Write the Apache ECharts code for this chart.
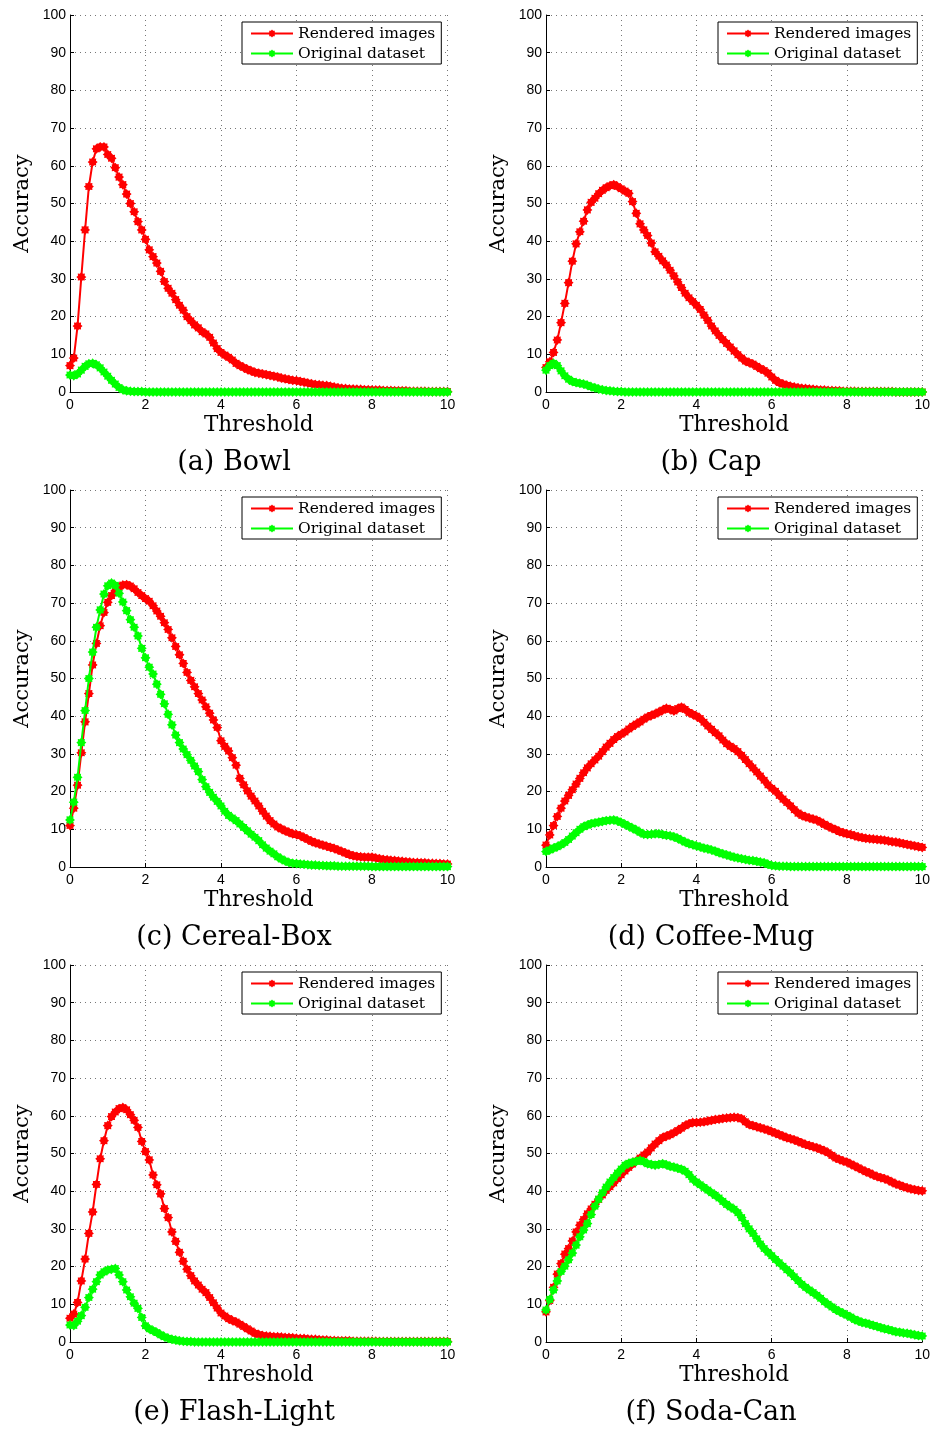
<!DOCTYPE html>
<html>
<head>
<meta charset="utf-8">
<script src="https://cdn.jsdelivr.net/npm/echarts@6/dist/echarts.min.js"></script>
<style>
  html, body { margin: 0; padding: 0; background: #fff; }
  #chart { width: 933px; height: 1433px; }
</style>
</head>
<body>
<div id="chart"></div>
<script>
// Threshold values (x axis), sampled every 0.1
const thresholds = [
  0, 0.1, 0.2, 0.3, 0.4, 0.5, 0.6, 0.7, 0.8, 0.9,
  1, 1.1, 1.2, 1.3, 1.4, 1.5, 1.6, 1.7, 1.8, 1.9,
  2, 2.1, 2.2, 2.3, 2.4, 2.5, 2.6, 2.7, 2.8, 2.9,
  3, 3.1, 3.2, 3.3, 3.4, 3.5, 3.6, 3.7, 3.8, 3.9,
  4, 4.1, 4.2, 4.3, 4.4, 4.5, 4.6, 4.7, 4.8, 4.9,
  5, 5.1, 5.2, 5.3, 5.4, 5.5, 5.6, 5.7, 5.8, 5.9,
  6, 6.1, 6.2, 6.3, 6.4, 6.5, 6.6, 6.7, 6.8, 6.9,
  7, 7.1, 7.2, 7.3, 7.4, 7.5, 7.6, 7.7, 7.8, 7.9,
  8, 8.1, 8.2, 8.3, 8.4, 8.5, 8.6, 8.7, 8.8, 8.9,
  9, 9.1, 9.2, 9.3, 9.4, 9.5, 9.6, 9.7, 9.8, 9.9,
  10
];

const seriesNames = ['Rendered images', 'Original dataset'];
const captions = ['(a) Bowl', '(b) Cap', '(c) Cereal-Box', '(d) Coffee-Mug', '(e) Flash-Light', '(f) Soda-Can'];
const xTicks = [0, 2, 4, 6, 8, 10];
const yTicks = [0, 10, 20, 30, 40, 50, 60, 70, 80, 90, 100];

// Accuracy (%) per threshold
const bowlRendered = [
  7, 9, 17.5, 30.5, 43, 54.5, 61, 64.5, 65, 65,
  63, 62, 59.5, 57, 55, 52.5, 50, 47.8, 45.2, 43,
  40.5, 37.7, 35.9, 34.2, 32, 29.3, 27.5, 26.2, 24.5, 23,
  21.7, 20, 18.9, 17.8, 17, 16, 15.4, 14.5, 13, 11.5,
  10.5, 9.8, 9.2, 8.5, 7.6, 7, 6.5, 6, 5.6, 5.2,
  5, 4.8, 4.6, 4.4, 4.2, 4, 3.7, 3.5, 3.3, 3.1,
  3, 2.8, 2.6, 2.4, 2.2, 2, 1.9, 1.8, 1.7, 1.5,
  1.3, 1.1, 1, 0.9, 0.8, 0.8, 0.7, 0.7, 0.6, 0.6,
  0.5, 0.5, 0.5, 0.4, 0.4, 0.4, 0.3, 0.3, 0.3, 0.3,
  0.2, 0.2, 0.2, 0.2, 0.2, 0.1, 0.1, 0.1, 0.1, 0.1,
  0.1
];
const bowlOriginal = [
  4.5, 4.3, 4.8, 5.8, 6.8, 7.5, 7.6, 7.2, 6.4, 5.3,
  4.2, 3.1, 2.1, 1.2, 0.6, 0.3, 0.2, 0.1, 0.1, 0.1,
  0, 0, 0, 0, 0, 0, 0, 0, 0, 0,
  0, 0, 0, 0, 0, 0, 0, 0, 0, 0,
  0, 0, 0, 0, 0, 0, 0, 0, 0, 0,
  0, 0, 0, 0, 0, 0, 0, 0, 0, 0,
  0, 0, 0, 0, 0, 0, 0, 0, 0, 0,
  0, 0, 0, 0, 0, 0, 0, 0, 0, 0,
  0, 0, 0, 0, 0, 0, 0, 0, 0, 0,
  0, 0, 0, 0, 0, 0, 0, 0, 0, 0,
  0
];

const capRendered = [
  6.5, 8, 10.5, 13.8, 18.4, 23.5, 29, 34.7, 39.3, 42.5,
  45.3, 48.3, 50.3, 51.4, 52.6, 53.5, 54.2, 54.7, 55, 54.5,
  53.9, 53.3, 52.7, 50.5, 47.4, 44.6, 43, 41.5, 39.5, 37.2,
  36, 34.8, 33.7, 32.3, 30.8, 29.2, 27.7, 26.2, 25, 24,
  23, 21.9, 20.4, 19, 17.5, 16.2, 15, 13.9, 12.9, 11.9,
  10.9, 9.9, 9, 8.2, 7.8, 7.4, 6.8, 6.2, 5.7, 5,
  4, 3.1, 2.5, 2.1, 1.8, 1.5, 1.3, 1.1, 1, 0.9,
  0.8, 0.7, 0.6, 0.5, 0.5, 0.4, 0.4, 0.3, 0.3, 0.2,
  0.2, 0.2, 0.2, 0.1, 0.1, 0.1, 0.1, 0.1, 0.1, 0.1,
  0.1, 0.1, 0.1, 0, 0, 0, 0, 0, 0, 0,
  0
];
const capOriginal = [
  5.8, 7, 7.6, 7, 5.6, 4.3, 3.4, 2.8, 2.5, 2.3,
  2.1, 1.8, 1.4, 1.1, 0.8, 0.6, 0.4, 0.3, 0.2, 0.1,
  0.1, 0, 0, 0, 0, 0, 0, 0, 0, 0,
  0, 0, 0, 0, 0, 0, 0, 0, 0, 0,
  0, 0, 0, 0, 0, 0, 0, 0, 0, 0,
  0, 0, 0, 0, 0, 0, 0, 0, 0, 0,
  0, 0, 0, 0, 0, 0, 0, 0, 0, 0,
  0, 0, 0, 0, 0, 0, 0, 0, 0, 0,
  0, 0, 0, 0, 0, 0, 0, 0, 0, 0,
  0, 0, 0, 0, 0, 0, 0, 0, 0, 0,
  0
];

const cerealRendered = [
  11, 15.6, 21.7, 30.3, 38.5, 46, 53.6, 59.3, 64, 67.5,
  70.2, 72, 73.3, 74.3, 74.8, 74.9, 74.5, 73.8, 72.8, 72,
  71.2, 70.5, 69.3, 67.9, 66.5, 64.8, 63, 60.8, 58.5, 56.3,
  54, 51.6, 49.5, 47.8, 46, 44.3, 42.5, 40.8, 39, 37,
  33.5, 32, 30.8, 29, 27, 23.5, 21.8, 20.2, 18.8, 17.5,
  16.2, 14.8, 13.5, 12.3, 11.4, 10.6, 10.1, 9.6, 9.2, 8.8,
  8.6, 8.3, 7.8, 7.3, 6.8, 6.4, 6.1, 5.8, 5.5, 5.2,
  4.9, 4.5, 4.1, 3.7, 3.3, 3, 2.8, 2.7, 2.6, 2.6,
  2.6, 2.4, 2.2, 2, 1.9, 1.8, 1.7, 1.6, 1.5, 1.4,
  1.3, 1.2, 1.2, 1.1, 1.1, 1, 1, 0.9, 0.9, 0.8,
  0.8
];
const cerealOriginal = [
  12.5, 17.2, 23.8, 33, 41.5, 50, 57, 63.6, 68.2, 72.4,
  74.6, 75.3, 74.7, 72.6, 70.3, 68, 65.6, 63.6, 61.3, 58,
  55.5, 53, 51.2, 48.5, 45.8, 43.3, 40.5, 37.7, 35, 33,
  31.3, 29.8, 28.3, 26.8, 25.3, 23.2, 21.3, 19.8, 18.5, 17.4,
  16.2, 14.8, 13.7, 13, 12.3, 11.4, 10.5, 9.6, 8.7, 7.9,
  7, 5.9, 5, 4.2, 3.5, 2.7, 2.1, 1.6, 1.2, 1,
  0.9, 0.8, 0.7, 0.6, 0.5, 0.5, 0.4, 0.4, 0.3, 0.3,
  0.3, 0.2, 0.2, 0.2, 0.2, 0.2, 0.2, 0.2, 0.2, 0.2,
  0.1, 0.1, 0.1, 0.1, 0.1, 0.1, 0.1, 0.1, 0.1, 0.1,
  0.1, 0.1, 0.1, 0.1, 0.1, 0.1, 0.1, 0.1, 0.1, 0.1,
  0.1
];

const mugRendered = [
  5.8, 8.5, 11, 13.4, 15.6, 17.5, 19, 20.5, 22, 23.5,
  25, 26.3, 27.4, 28.4, 29.4, 30.6, 31.8, 32.8, 33.8, 34.6,
  35.2, 35.8, 36.6, 37.3, 37.9, 38.5, 39.2, 39.8, 40.2, 40.6,
  41.1, 41.6, 42.1, 41.8, 41.4, 42, 42.4, 41.8, 41, 40.5,
  40, 39.4, 38.4, 37.4, 36.5, 35.6, 34.8, 33.7, 32.7, 32,
  31.4, 30.6, 29.6, 28.5, 27.4, 26.3, 25.2, 24.1, 23, 21.8,
  20.9, 20.1, 19, 18, 17.1, 16.2, 15.2, 14.3, 13.7, 13.3,
  13, 12.7, 12.4, 11.9, 11.3, 10.8, 10.3, 9.9, 9.4, 9.1,
  8.8, 8.6, 8.3, 8, 7.8, 7.6, 7.5, 7.4, 7.3, 7.2,
  7.1, 6.9, 6.7, 6.6, 6.4, 6.2, 6, 5.8, 5.6, 5.4,
  5.2
];
const mugOriginal = [
  4.1, 4.5, 5, 5.4, 5.9, 6.5, 7.3, 8.2, 9.1, 10,
  10.7, 11.1, 11.5, 11.7, 11.9, 12.1, 12.3, 12.4, 12.5, 12.2,
  11.8, 11.3, 10.8, 10.3, 9.8, 9.2, 8.7, 8.6, 8.7, 8.8,
  8.8, 8.6, 8.4, 8.3, 8, 7.6, 7.1, 6.6, 6.2, 5.9,
  5.6, 5.3, 5, 4.8, 4.5, 4.2, 3.8, 3.5, 3.2, 2.9,
  2.6, 2.4, 2.2, 2, 1.8, 1.7, 1.5, 1.3, 1.1, 0.7,
  0.4, 0.3, 0.2, 0.2, 0.2, 0.1, 0.1, 0.1, 0.1, 0.1,
  0.1, 0.1, 0.1, 0.1, 0.1, 0.1, 0.1, 0.1, 0.1, 0.1,
  0.1, 0.1, 0.1, 0.1, 0.1, 0.1, 0.1, 0.1, 0.1, 0.1,
  0.1, 0.1, 0.1, 0.1, 0.1, 0.1, 0.1, 0.1, 0.1, 0.1,
  0.1
];

const flashRendered = [
  6.3, 7.4, 10.5, 16.2, 22, 28.8, 34.5, 41.8, 48.6, 53.4,
  57.4, 59.8, 61, 61.9, 62.2, 61.6, 60.3, 58.8, 56.9, 53.2,
  50.5, 48.3, 44.3, 41.7, 39.3, 35.4, 33, 29.2, 26.7, 23.8,
  21.4, 19.3, 17.6, 16.2, 15.1, 14, 13.1, 11.8, 10.4, 9,
  7.7, 6.9, 6.2, 5.7, 5.3, 4.7, 4.1, 3.5, 2.9, 2.3,
  2, 1.7, 1.6, 1.5, 1.4, 1.4, 1.3, 1.2, 1.2, 1.1,
  1, 0.9, 0.9, 0.8, 0.7, 0.7, 0.6, 0.5, 0.5, 0.4,
  0.4, 0.3, 0.3, 0.3, 0.3, 0.2, 0.2, 0.2, 0.2, 0.2,
  0.2, 0.2, 0.1, 0.1, 0.1, 0.1, 0.1, 0.1, 0.1, 0.1,
  0.1, 0.1, 0.1, 0.1, 0.1, 0.1, 0.1, 0.1, 0.1, 0.1,
  0.1
];
const flashOriginal = [
  4.5, 4.4, 5.5, 7, 9.2, 11.8, 14, 16, 17.8, 18.6,
  19.1, 19.3, 19.5, 17.8, 16, 13.8, 12, 10.3, 8.9, 6.5,
  4.3, 3.5, 3, 2.5, 1.9, 1.4, 1, 0.7, 0.5, 0.3,
  0.2, 0.1, 0.1, 0, 0, 0, 0, 0, 0, 0,
  0, 0, 0, 0, 0, 0, 0, 0, 0, 0,
  0, 0, 0, 0, 0, 0, 0, 0, 0, 0,
  0, 0, 0, 0, 0, 0, 0, 0, 0, 0,
  0, 0, 0, 0, 0, 0, 0, 0, 0, 0,
  0, 0, 0, 0, 0, 0, 0, 0, 0, 0,
  0, 0, 0, 0, 0, 0, 0, 0, 0, 0,
  0
];

const sodaRendered = [
  8, 11, 14.5, 18, 20.8, 23.3, 24.8, 26.8, 29.2, 31,
  32.5, 34, 35.3, 36.5, 37.8, 39, 40.2, 41.2, 42.2, 43.3,
  44.4, 45.4, 46.3, 47.2, 48, 48.8, 49.6, 50.4, 51.5, 52.5,
  53.4, 54.2, 54.6, 55, 55.5, 56.1, 56.7, 57.4, 57.9, 58.2,
  58.2, 58.3, 58.4, 58.6, 58.8, 59, 59.1, 59.3, 59.4, 59.5,
  59.6, 59.5, 59.2, 58.4, 57.7, 57.4, 57.1, 56.8, 56.5, 56.2,
  55.8, 55.4, 55, 54.6, 54.2, 53.9, 53.6, 53.2, 52.8, 52.4,
  52.1, 51.8, 51.5, 51.1, 50.7, 50.2, 49.5, 48.8, 48.4, 48,
  47.7, 47.2, 46.7, 46.2, 45.7, 45.2, 44.8, 44.3, 43.9, 43.6,
  43.3, 42.9, 42.4, 41.9, 41.6, 41.2, 40.9, 40.6, 40.4, 40.2,
  40.1
];
const sodaOriginal = [
  8.5, 11.3, 13.8, 16.2, 18.7, 20.1, 21.8, 23.6, 25.7, 27.9,
  29.7, 31.4, 33.8, 36, 37.9, 39.6, 41.1, 42.4, 43.6, 44.8,
  45.9, 46.9, 47.4, 47.7, 47.9, 48.2, 47.8, 47.3, 47.1, 46.9,
  47.1, 47.3, 47, 46.6, 46.4, 46.1, 45.8, 45.3, 44.4, 43.2,
  42.4, 41.7, 41, 40.3, 39.6, 38.9, 38.2, 37.3, 36.5, 35.8,
  35.2, 34.3, 33, 31.4, 30, 28.8, 27.4, 26, 24.8, 23.8,
  22.9, 21.9, 21, 20.1, 19.2, 18.3, 17.3, 16.3, 15.3, 14.5,
  13.8, 13.1, 12.4, 11.6, 10.7, 10, 9.3, 8.6, 8.1, 7.6,
  7.1, 6.6, 6, 5.6, 5.2, 5, 4.7, 4.4, 4.1, 3.8,
  3.5, 3.3, 3, 2.7, 2.6, 2.4, 2.3, 2.1, 1.9, 1.7,
  1.6
];

const panels = [
  [bowlRendered, bowlOriginal],
  [capRendered, capOriginal],
  [cerealRendered, cerealOriginal],
  [mugRendered, mugOriginal],
  [flashRendered, flashOriginal],
  [sodaRendered, sodaOriginal]
];

// Asterisk-like marker: an 8-spike star
function asteriskSymbol(spikes, inner) {
  let d = '';
  for (let i = 0; i < spikes * 2; i++) {
    const a = i * Math.PI / spikes - Math.PI / 2;
    const r = i % 2 ? inner : 1;
    d += (i ? 'L' : 'M') + (50 + 50 * r * Math.cos(a)).toFixed(2) + ',' + (50 + 50 * r * Math.sin(a)).toFixed(2);
  }
  return 'path://' + d + 'Z';
}
const marker = asteriskSymbol(8, 0.72);

const colors = ['#ff0000', '#00ff00'];
const serif = '"DejaVu Serif", "Liberation Serif", serif';
const sans = '"Liberation Sans", Arial, sans-serif';

const colLeft = [70, 546];
const rowTop = [15, 490, 965];
const plotW = 377.5, plotH = 377;
const captionX = [234, 711];
const captionY = [463, 938, 1413];

const grids = [], xAxes = [], yAxes = [], series = [], legends = [], graphics = [];
const gridLine = { show: true, lineStyle: { color: '#777', width: 1, type: [1, 4] } };

panels.forEach((pair, p) => {
  const col = p % 2, row = Math.floor(p / 2);
  grids.push({ left: colLeft[col], top: rowTop[row], width: plotW, height: plotH });
  xAxes.push({
    gridIndex: p, type: 'value', min: xTicks[0], max: xTicks[xTicks.length - 1],
    interval: xTicks[1] - xTicks[0],
    name: 'Threshold', nameLocation: 'middle', nameGap: 22,
    nameTextStyle: { fontFamily: serif, fontSize: 21.5, color: '#000' },
    axisLine: { show: true, onZero: false, lineStyle: { color: '#000', width: 1 } },
    axisTick: { show: true, inside: true, length: 4, lineStyle: { color: '#000' } },
    axisLabel: { margin: 6, fontFamily: sans, fontSize: 14, color: '#000' },
    splitLine: gridLine
  });
  yAxes.push({
    gridIndex: p, type: 'value', min: yTicks[0], max: yTicks[yTicks.length - 1],
    interval: yTicks[1] - yTicks[0],
    name: 'Accuracy', nameLocation: 'middle', nameGap: 37,
    nameTextStyle: { fontFamily: serif, fontSize: 21, color: '#000' },
    axisLine: { show: true, onZero: false, lineStyle: { color: '#000', width: 1 } },
    axisTick: { show: true, inside: true, length: 4, lineStyle: { color: '#000' } },
    axisLabel: { margin: 4, fontFamily: sans, fontSize: 14, color: '#000' },
    splitLine: gridLine
  });
  pair.forEach((values, s) => {
    series.push({
      type: 'line', name: seriesNames[s], xAxisIndex: p, yAxisIndex: p,
      data: thresholds.map((t, i) => [t, values[i]]),
      symbol: marker, symbolSize: 10, showAllSymbol: true,
      color: colors[s],
      itemStyle: { color: colors[s] },
      lineStyle: { color: colors[s], width: 2 },
      emphasis: { disabled: true },
      z: 2 + s
    });
  });
  legends.push({
    left: colLeft[col] + 172, top: rowTop[row] + 7,
    orient: 'vertical', data: seriesNames,
    itemWidth: 42, itemHeight: 10, itemGap: 3,
    padding: [3, 6, 2, 8],
    borderColor: '#000', borderWidth: 1, borderRadius: 0,
    backgroundColor: '#fff',
    textStyle: { fontFamily: serif, fontSize: 15.5, lineHeight: 17, color: '#000' },
    selectedMode: false
  });
  graphics.push({
    type: 'text', x: captionX[col], y: captionY[row],
    style: {
      text: captions[p], fontFamily: serif, fontSize: 27, fill: '#000',
      textAlign: 'center', textVerticalAlign: 'middle'
    }
  });
});

const chart = echarts.init(document.getElementById('chart'), null, { renderer: 'canvas' });
chart.setOption({
  animation: false,
  backgroundColor: '#fff',
  grid: grids,
  xAxis: xAxes,
  yAxis: yAxes,
  legend: legends,
  series: series,
  graphic: graphics
});
</script>
</body>
</html>
